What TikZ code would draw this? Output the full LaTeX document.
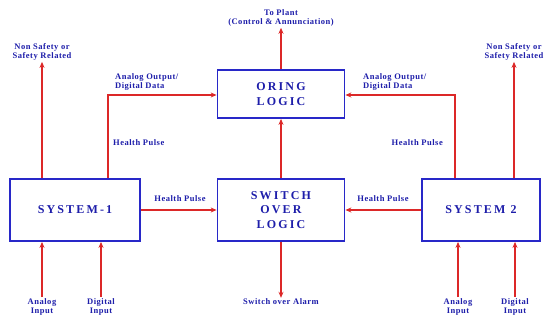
\documentclass[tikz,border=0pt]{standalone}
\usepackage{fontspec}
\setmainfont{Liberation Serif}
\usetikzlibrary{arrows.meta}
\definecolor{bx}{RGB}{40,40,200}
\definecolor{tx}{RGB}{30,30,170}
\definecolor{ar}{RGB}{220,40,40}
\begin{document}
\begin{tikzpicture}[x=1pt,y=-1pt,
  blk/.style={draw=bx,line width=1.8pt,fill=white,inner sep=0pt,text=tx,
    font=\fontsize{12}{14.5}\selectfont\bfseries\addfontfeature{LetterSpace=18},align=center},
  lab/.style={text=tx,font=\fontsize{8.5}{9.5}\selectfont\bfseries\addfontfeature{LetterSpace=6},align=center,inner sep=1pt},
  arr/.style={draw=ar,line width=1.3pt,-{Stealth[length=6pt,width=5pt]}}]
\useasboundingbox (0,0) rectangle (554,331);
% blocks
\node[blk,minimum width=127pt,minimum height=48pt] (oring) at (281,94) {ORING\\LOGIC};
\node[blk,minimum width=127pt,minimum height=62pt] (sw) at (281,210) {SWITCH\\OVER\\LOGIC};
\node[blk,minimum width=130pt,minimum height=62pt] (s1) at (75,210) {SYSTEM-1};
\node[blk,minimum width=118pt,minimum height=62pt] (s2) at (481,210) {SYSTEM 2};
% labels
\node[lab] (plant) at (281,18) {To Plant\\(Control \& Annunciation)};
\node[lab] (ns1) at (42,52) {Non Safety or\\Safety Related};
\node[lab] (ns2) at (514,52) {Non Safety or\\Safety Related};
\node[lab,anchor=west,align=left] (ao1) at (114,82) {Analog Output/\\Digital Data};
\node[lab,anchor=west,align=left] (ao2) at (362,82) {Analog Output/\\Digital Data};
\node[lab,anchor=west] (hp1) at (112,143) {Health Pulse};
\node[lab,anchor=east] (hp2) at (444,143) {Health Pulse};
\node[lab] (hp3) at (180,199) {Health Pulse};
\node[lab] (hp4) at (383,199) {Health Pulse};
\node[lab] (alarm) at (281,302) {Switch over Alarm};
\node[lab] (ai1) at (42,307) {Analog\\Input};
\node[lab] (di1) at (101,307) {Digital\\Input};
\node[lab] (ai2) at (458,307) {Analog\\Input};
\node[lab] (di2) at (515,307) {Digital\\Input};
% coordinates
\coordinate (c1) at (108,95);
\coordinate (c2) at (455,95);
% connectors
\draw[arr] (oring.north) -- (plant.south);
\draw[arr] (sw.north) -- (oring.south);
\draw[arr] (sw.south) -- (alarm.north);
\draw[arr] (s1.east) -- (sw.west);
\draw[arr] (s2.west) -- (sw.east);
\draw[arr] (s1.north -| ns1) -- (ns1.south);
\draw[arr] (s2.north -| ns2) -- (ns2.south);
\draw[arr] (s1.north -| c1) -- (c1) -- (oring.west |- c1);
\draw[arr] (s2.north -| c2) -- (c2) -- (oring.east |- c2);
\draw[arr] (ai1.north) -- (s1.south -| ai1);
\draw[arr] (di1.north) -- (s1.south -| di1);
\draw[arr] (ai2.north) -- (s2.south -| ai2);
\draw[arr] (di2.north) -- (s2.south -| di2);
\end{tikzpicture}
\end{document}
